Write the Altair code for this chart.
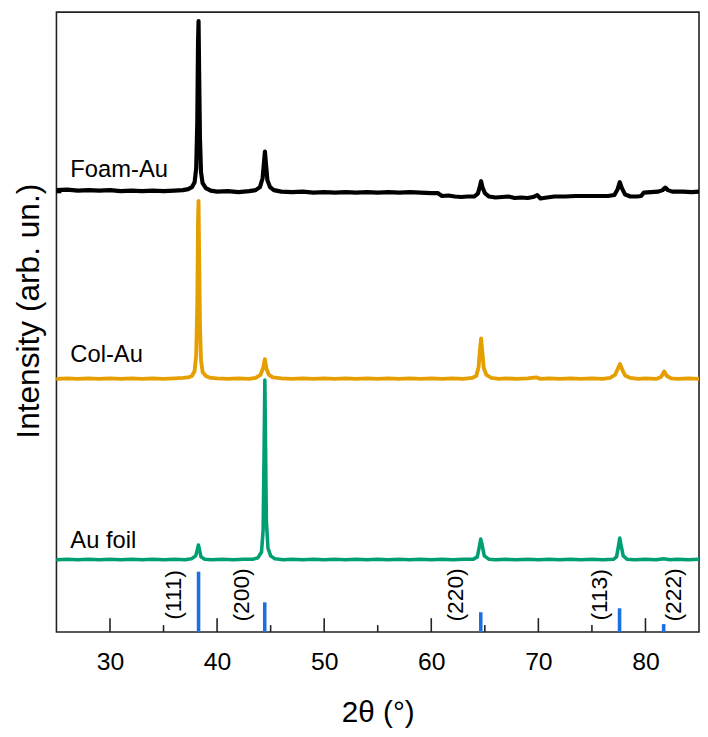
import altair as alt
import pandas as pd

# ---------------- data ----------------
series_names = ["Foam-Au", "Col-Au", "Au foil"]
series_colors = ["#000000", "#E69F00", "#009E73"]
series_offsets = [445, 256, 73]          # vertical stacking offsets (arb. un.)
label_lift = [15, 17, 12]                # label baseline above each curve's baseline

foam_x = [25.0, 26.0, 27.0, 28.0, 29.0, 30.0, 31.0, 32.0, 33.0, 34.0, 35.0, 36.0, 36.8,
          37.3, 37.65, 37.9, 38.05, 38.15, 38.22, 38.27, 38.32, 38.4, 38.5, 38.65, 38.95, 39.4,
          40.0, 41.0, 42.0, 43.0, 43.6, 44.0, 44.25, 44.38, 44.47, 44.57, 44.7, 44.95, 45.3,
          46.0, 47.0, 48.0, 49.0, 50.0, 51.0, 52.0, 53.0, 54.0, 55.0, 56.0, 57.0, 58.0, 59.0,
          60.0, 60.6, 61.0, 61.6, 62.2, 62.8, 63.4, 64.0, 64.35, 64.55, 64.65, 64.78, 65.0,
          65.4, 66.0, 66.6, 67.2, 67.8, 68.4, 69.0, 69.5, 69.9, 70.2, 70.8, 71.5, 72.5, 73.5,
          74.5, 75.5, 76.5, 77.1, 77.4, 77.6, 77.8, 78.1, 78.6, 79.2, 79.6, 79.85, 80.5, 81.2,
          81.6, 81.85, 82.1, 82.5, 83.5, 84.3, 85.0]
foam_y = [2, 2.5, 1.5, 2, 1.5, 2, 1, 1.5, 1, 1.5, 1, 1.5, 2,
          3, 5, 10, 24, 70, 150, 173, 125, 55, 20, 9, 4, 1.5,
          0.5, 1, 0, 1, 2, 5, 14, 30, 41, 28, 12, 5, 2,
          0.5, 0, 0.5, -0.5, 0, -0.5, 0, -0.5, 0, -0.5, 0, -0.5, 0, -0.5,
          -1, -1, -4, -3.5, -4.5, -5, -4.5, -4.5, -1.5, 6, 11, 5, -1,
          -4.5, -5.5, -5, -4.5, -6, -5.5, -6, -5, -3, -6.5, -5.5, -4.5, -4.5, -4,
          -4, -4, -4, -3, 3, 10, 4, -2.5, -4.5, -4.5, -4, -0.5, 0, 0.5,
          2, 4.5, 2, 0.5, 0.5, 0, 0.5]

col_x = [25, 26, 27, 28, 29, 30, 31, 32, 33, 34, 35, 36, 36.8,
         37.3, 37.65, 37.9, 38.05, 38.15, 38.22, 38.27, 38.32, 38.4, 38.5, 38.65, 38.95, 39.4,
         40, 41, 42, 43, 43.6, 44.05, 44.3, 44.46, 44.62, 44.85, 45.2,
         46, 47, 48, 49, 50, 51, 52, 53, 54, 55, 56, 57, 58, 59, 60, 61, 62, 63,
         63.8, 64.2, 64.42, 64.55, 64.65, 64.76, 64.9, 65.15, 65.6, 66.3,
         67, 68, 69, 69.8, 70.2, 71, 72, 73, 74, 75, 76,
         76.7, 77.15, 77.45, 77.62, 77.85, 78.1, 78.6, 79.3, 80, 81,
         81.45, 81.75, 82.0, 82.4, 83, 84, 85]
col_y = [0, 0.5, 0, 0.5, 0, 0.5, 0, 0.5, 0, 0.5, 0, 0.5, 1,
         1.5, 3, 8, 24, 75, 160, 180, 130, 55, 19, 7, 3, 1,
         0.5, 0, 0.5, 0, 1, 4, 11, 20, 10, 4, 1.5,
         0.5, 0, 0.5, 0, 0.5, 0, 0.5, 0, 0.5, 0, 0.5, 0, 0.5, 0, 0.5, 0, 0.5, 0,
         1, 3, 12, 30, 41, 28, 11, 4, 1, 0,
         0.5, 0, 0.5, 1.5, 0, 0.5, 0, 0.5, 0, 0.5, 0,
         1, 4, 11, 15, 9, 3.5, 1, 0, 0.5, 0,
         2, 7.5, 3, 0.5, 0, 0.5, 0]

foil_x = [25, 26, 27, 28, 29, 30, 31, 32, 33, 34, 35, 36, 37,
          37.6, 38.0, 38.15, 38.26, 38.36, 38.5, 38.85, 39.5, 40.5, 41.5, 42.5, 43.3,
          43.8, 44.15, 44.3, 44.39, 44.46, 44.52, 44.6, 44.75, 45.0, 45.4,
          46.2, 47, 48, 49, 50, 51, 52, 53, 54, 55, 56, 57, 58, 59, 60, 61, 62, 63,
          63.9, 64.3, 64.5, 64.62, 64.75, 64.95, 65.4,
          66, 67, 68, 69, 70, 71, 72, 73, 74, 75, 76,
          77.0, 77.3, 77.48, 77.6, 77.72, 77.92, 78.3, 79, 80, 81, 81.7, 82.3, 83, 84, 85]
foil_y = [0, 0.5, 0, 0.5, 0, 0.5, 0, 0.5, 0, 0.5, 0, 0.5, 0,
          1, 4, 10, 15, 10, 3, 0.5, 0, 0.5, 0, 0.5, 0.5,
          2, 8, 30, 110, 182, 120, 40, 12, 4, 1,
          0, 0.5, 0, 0.5, 0, 0.5, 0, 0.5, 0, 0.5, 0, 0.5, 0, 0.5, 0, 0.5, 0, 0.5,
          0.5, 3, 14, 21, 15, 4, 0.5,
          0, 0.5, 0, 0.5, 0, 0.5, 0, 0.5, 0, 0.5, 0,
          0.5, 3, 14, 22, 15, 4, 0.5, 0, 0.5, 0, 1, 0, 0.5, 0, 0.5]

# reference pattern (Au) sticks
ref_hkl = ["(111)", "(200)", "(220)", "(113)", "(222)"]
ref_pos = [38.27, 44.45, 64.62, 77.58, 81.70]
ref_int = [61, 30, 20, 24, 8]
ref_label_x = [36.0, 42.3, 62.3, 75.8, 82.7]

major_ticks = [30, 40, 50, 60, 70, 80]
minor_ticks = [35, 45, 55, 65, 75]

# ---------------- tables ----------------
rows = []
for name, off, xs, ys in zip(series_names, series_offsets,
                             [foam_x, col_x, foil_x], [foam_y, col_y, foil_y]):
    for x, y in zip(xs, ys):
        rows.append({"series": name, "two_theta": x, "intensity": y + off})
curves = pd.DataFrame(rows)

labels = pd.DataFrame({
    "series": series_names,
    "x": [26.3, 26.3, 26.3],
    "y": [o + l for o, l in zip(series_offsets, label_lift)],
    "offset": series_offsets,
})
sticks = pd.DataFrame({"hkl": ref_hkl, "pos": ref_pos, "int": ref_int,
                       "zero": [0] * 5, "lx": ref_label_x})
majors = pd.DataFrame({"t": major_ticks})
minors = pd.DataFrame({"t": minor_ticks})

FONT = "Liberation Sans, Arial, Helvetica, sans-serif"
xscale = alt.Scale(domain=[25, 85], nice=False, zero=False)
yscale = alt.Scale(domain=[0, 627], nice=False, zero=False)
cscale = alt.Scale(domain=series_names, range=series_colors)

xaxis = alt.Axis(values=major_ticks, ticks=False, tickSize=0, domain=False, grid=False,
                 labelFontSize=25, labelFont=FONT, labelColor="#000", labelPadding=18,
                 title="2θ (°)", titleFontSize=30, titleFont=FONT, titleFontWeight="normal",
                 titleColor="#000", titleY=91, titleBaseline="alphabetic")
yaxis = alt.Axis(labels=False, ticks=False, tickSize=0, domain=False, grid=False,
                 title="Intensity (arb. un.)", titleFontSize=32, titleFont=FONT,
                 titleFontWeight="normal", titleColor="#000", titleX=-28, titleY=302,
                 titleAngle=270, titleBaseline="middle", titleAlign="center")

base = alt.Chart(curves)

lines = base.mark_line(strokeJoin="round", strokeCap="round", clip=True).encode(
    x=alt.X("two_theta:Q", scale=xscale, axis=xaxis),
    y=alt.Y("intensity:Q", scale=yscale, axis=yaxis),
    color=alt.Color("series:N", scale=cscale, legend=None),
    strokeWidth=alt.StrokeWidth("series:N",
                                scale=alt.Scale(domain=series_names, range=[4.2, 3.6, 3.2]),
                                legend=None),
    detail="series:N",
)

name_text = alt.Chart(labels).mark_text(align="left", baseline="alphabetic",
                                         fontSize=24, font=FONT, color="#000").encode(
    x=alt.X("x:Q", scale=xscale), y=alt.Y("y:Q", scale=yscale), text="series:N")

left_marks = alt.Chart(labels).mark_rule(strokeWidth=2.5).encode(
    x=alt.value(0), x2=alt.value(5),
    y=alt.Y("offset:Q", scale=yscale),
    color=alt.Color("series:N", scale=cscale, legend=None))

stick_rules = alt.Chart(sticks).mark_rule(color="#1a6fe3", strokeWidth=3.6).encode(
    x=alt.X("pos:Q", scale=xscale), y=alt.Y("zero:Q", scale=yscale), y2="int:Q")

stick_text = alt.Chart(sticks).mark_text(angle=270, align="center", baseline="middle",
                                          fontSize=23, font=FONT, color="#000").encode(
    x=alt.X("lx:Q", scale=xscale), y=alt.value(627 - 37.5), text="hkl:N")

major_rules = alt.Chart(majors).mark_rule(color="#222", strokeWidth=1.6).encode(
    x=alt.X("t:Q", scale=xscale), y=alt.value(627), y2=alt.value(613))
minor_rules = alt.Chart(minors).mark_rule(color="#222", strokeWidth=1.6).encode(
    x=alt.X("t:Q", scale=xscale), y=alt.value(627), y2=alt.value(620))

chart = alt.layer(
    lines, stick_rules, major_rules, minor_rules, stick_text, name_text, left_marks
).properties(
    width=650, height=627,
    autosize=alt.AutoSizeParams(type="none"),
    padding={"left": 49, "top": 0, "right": 1, "bottom": 102},
    background="white",
).configure_view(stroke="#222", strokeWidth=1.6)

chart.save("out.html", embed_options={"renderer": "svg", "actions": False})
